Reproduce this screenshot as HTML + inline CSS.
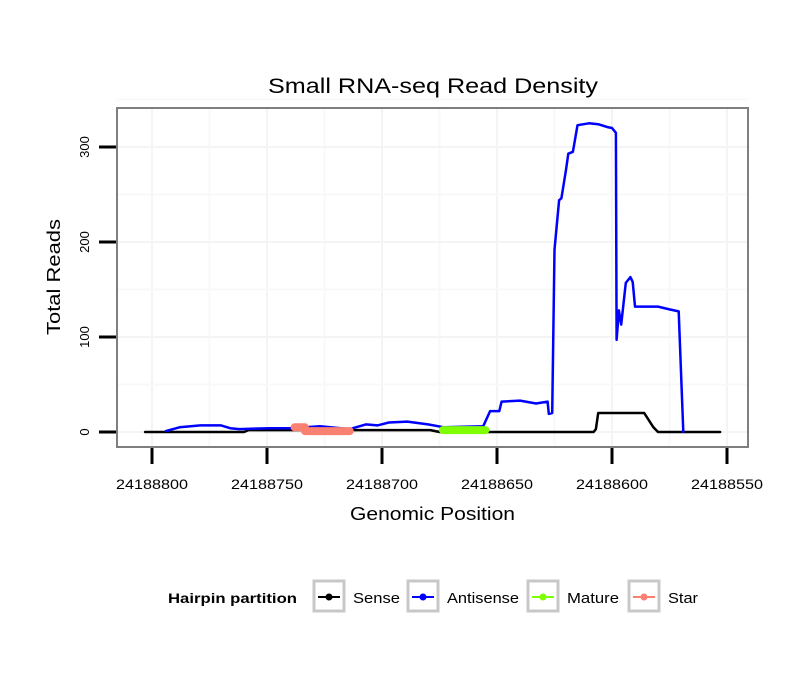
<!DOCTYPE html>
<html><head><meta charset="utf-8"><style>
body{margin:0;background:#fff;font-family:"Liberation Sans",sans-serif}
</style></head><body>
<svg id="c" width="810" height="690" viewBox="0 0 810 690" xmlns="http://www.w3.org/2000/svg" font-family="Liberation Sans, sans-serif">
<rect width="810" height="690" fill="#fff"/>
<g id="grid"></g>
<g id="series"></g>
<rect x="117" y="108" width="631" height="339" fill="none" stroke="#7f7f7f" stroke-width="2"/>
<g id="axes"></g>
<text x="268" y="93" textLength="330" lengthAdjust="spacingAndGlyphs" font-size="21">Small RNA-seq Read Density</text>
<text x="350" y="520" textLength="165" lengthAdjust="spacingAndGlyphs" font-size="18">Genomic Position</text>
<text transform="translate(60,335) rotate(-90)" textLength="116" lengthAdjust="spacingAndGlyphs" font-size="18">Total Reads</text>
<g id="legend">
<text x="168" y="603" textLength="129" lengthAdjust="spacingAndGlyphs" font-size="14" font-weight="bold">Hairpin partition</text>
</g>
</svg>
<script>
const senseX=[24188803,24188760,24188758,24188679,24188675,24188608,24188607,24188606,24188586,24188582,24188580,24188553];
const senseY=[0,0,2,2,0,0,3,20,20,5,0,0];
const antiX=[24188794,24188788,24188779,24188770,24188766,24188762,24188749,24188739,24188727,24188714,24188707,24188702,24188697,24188689,24188680,24188673,24188656,24188653,24188649,24188648,24188640,24188633,24188628,24188627.5,24188626,24188625,24188623,24188622,24188620,24188619,24188617,24188615,24188610,24188606,24188602,24188600,24188598.3,24188598,24188597,24188596,24188594,24188592,24188591,24188590,24188580,24188575,24188571,24188569];
const antiY=[1,5,7,7,4,3,4,4,6,3,8,7,10,11,8,5,6,22,22,32,33,30,32,19,20,192,244,246,276,293,295,323,325,324,321,320,315,97,128,113,157,163,158,132,132,129,127,0];
const matureX=[24188673.5,24188655];
const matureY=[2,2];
const starX=[24188738,24188733.5,24188733.5,24188714];
const starY=[5,5,1,1];
const xTicks=[24188800,24188750,24188700,24188650,24188600,24188550];
const yTicks=[0,100,200,300];
const legendNames=["Sense","Antisense","Mature","Star"];
const legendColors=["#000000","#0000ff","#7fff00","#fa8072"];

const NS="http://www.w3.org/2000/svg";
const sx=g=>152+(24188800-g)*2.3;
const sy=v=>432-v*0.95;
function mk(tag,attrs,parent){const e=document.createElementNS(NS,tag);for(const k in attrs)e.setAttribute(k,attrs[k]);parent.appendChild(e);return e;}
const grid=document.getElementById('grid'),axes=document.getElementById('axes'),series=document.getElementById('series'),legend=document.getElementById('legend');
for(let i=0;i<xTicks.length;i++){
  const x=sx(xTicks[i]);
  const l=mk('line',{x1:x,x2:x,y1:108,y2:447,stroke:'#f4f4f4','stroke-width':2},grid);
  
  
  if(i<xTicks.length-1){const xm=sx((xTicks[i]+xTicks[i+1])/2);
    const m=mk('line',{x1:xm,x2:xm,y1:108,y2:447,stroke:'#f8f8f8','stroke-width':2},grid);
    
    }
  const t=mk('line',{x1:x,x2:x,y1:448,y2:464,stroke:'#000','stroke-width':3},axes);
  
  
  const tx=mk('text',{x:x-36,y:489,textLength:72,lengthAdjust:'spacingAndGlyphs','font-size':14},axes);
  
  
  tx.textContent=xTicks[i];
}
for(let i=0;i<yTicks.length;i++){
  const y=sy(yTicks[i]);
  const l=mk('line',{x1:117,x2:748,y1:y,y2:y,stroke:'#f4f4f4','stroke-width':2},grid);
  
  
  const ym=sy(yTicks[i]+50);
  const m=mk('line',{x1:117,x2:748,y1:ym,y2:ym,stroke:'#f8f8f8','stroke-width':2},grid);
  
  
  const t=mk('line',{x1:99,x2:116,y1:y,y2:y,stroke:'#000','stroke-width':3},axes);
  
  
  const tx=mk('text',{transform:`translate(89,${y}) rotate(-90)`,'text-anchor':'middle','font-size':13},axes);
  
  
  tx.textContent=yTicks[i];
}
function line(X,Y,color,w,name){
  const d=X.map((g,i)=>(i?'L':'M')+sx(g).toFixed(1)+','+sy(Y[i]).toFixed(1)).join('');
  const p=mk('path',{d:d,fill:'none',stroke:color,'stroke-width':w,'stroke-linejoin':'round','stroke-linecap':'round'},series);
  
  
}
line(senseX,senseY,'#000',2.5,'sense-line');
line(antiX,antiY,'#0000ff',2.5,'antisense-line');
line(matureX,matureY,'#7fff00',8,'mature-line');
line(starX,starY,'#fa8072',8,'star-line');
const lx=[313,407,527,628];
const lw=[47,72,52,30];
for(let i=0;i<legendNames.length;i++){
  const x=lx[i];
  const r=mk('rect',{x:x+1,y:581,width:30,height:30,fill:'#fff',stroke:'#c8c8c8','stroke-width':3},legend);
  
  
  const l=mk('line',{x1:x+5,x2:x+27,y1:597,y2:597,stroke:legendColors[i],'stroke-width':2},legend);
  
  
  const c=mk('circle',{cx:x+16,cy:597,r:3.5,fill:legendColors[i]},legend);
  
  
  const t=mk('text',{x:x+40,y:603,textLength:lw[i],lengthAdjust:'spacingAndGlyphs','font-size':15},legend);
  
  
  t.textContent=legendNames[i];
}
</script>
</body></html>
